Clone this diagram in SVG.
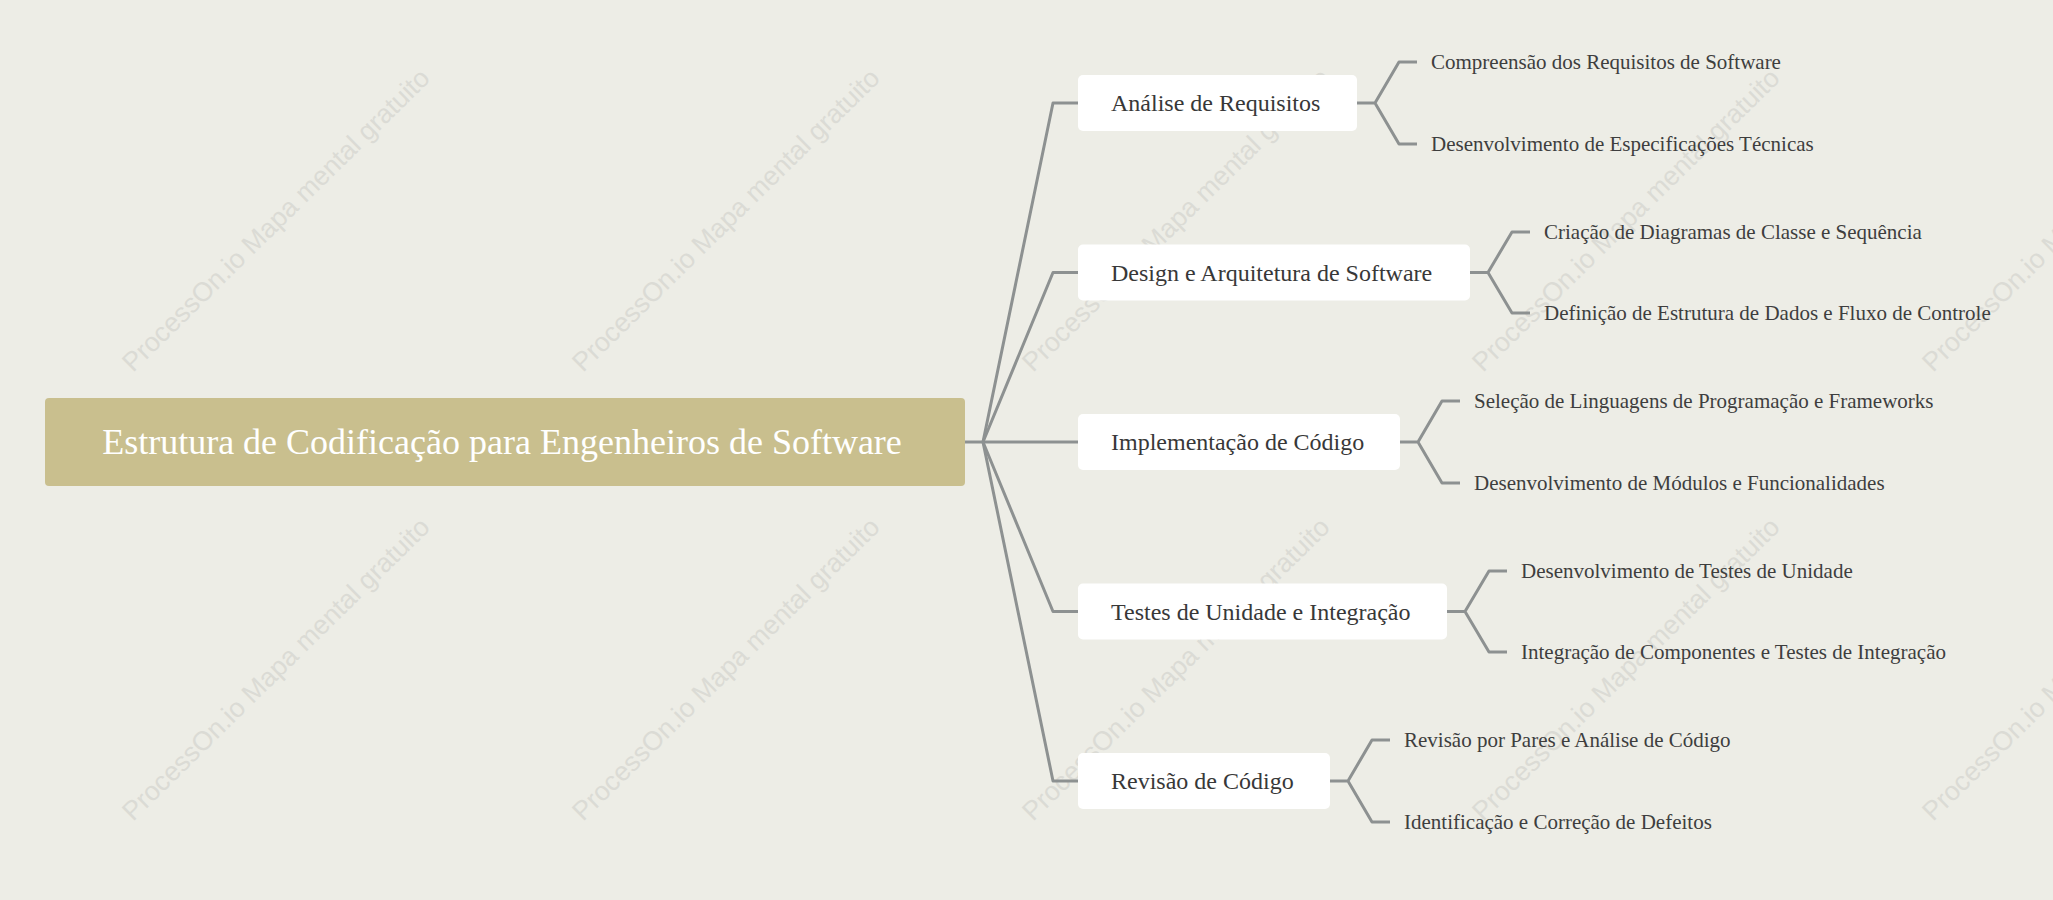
<svg xmlns="http://www.w3.org/2000/svg" width="2053" height="900" viewBox="0 0 2053 900">
<style>
.wm{font-family:"Liberation Sans",Arial,sans-serif;font-size:26.7px;fill:#dbdbd5}
.ln{fill:none;stroke:#8d9191;stroke-width:3;stroke-linejoin:round}
.l1box{fill:#ffffff}
.l1{font-family:"Liberation Serif","Times New Roman",serif;font-size:24px;fill:#383838}
.l2{font-family:"Liberation Serif","Times New Roman",serif;font-size:21px;fill:#3e3e3e}
.root{font-family:"Liberation Serif","Times New Roman",serif;font-size:36px;fill:#ffffff}
</style>
<rect x="0" y="0" width="2053" height="900" fill="#edede6"/>
<g id="watermarks">
<text class="wm" x="133" y="373" transform="rotate(-44.5 133 373)">ProcessOn.io Mapa mental gratuito</text>
<text class="wm" x="583" y="373" transform="rotate(-44.5 583 373)">ProcessOn.io Mapa mental gratuito</text>
<text class="wm" x="1033" y="373" transform="rotate(-44.5 1033 373)">ProcessOn.io Mapa mental gratuito</text>
<text class="wm" x="1483" y="373" transform="rotate(-44.5 1483 373)">ProcessOn.io Mapa mental gratuito</text>
<text class="wm" x="1933" y="373" transform="rotate(-44.5 1933 373)">ProcessOn.io Mapa mental gratuito</text>
<text class="wm" x="133" y="822" transform="rotate(-44.5 133 822)">ProcessOn.io Mapa mental gratuito</text>
<text class="wm" x="583" y="822" transform="rotate(-44.5 583 822)">ProcessOn.io Mapa mental gratuito</text>
<text class="wm" x="1033" y="822" transform="rotate(-44.5 1033 822)">ProcessOn.io Mapa mental gratuito</text>
<text class="wm" x="1483" y="822" transform="rotate(-44.5 1483 822)">ProcessOn.io Mapa mental gratuito</text>
<text class="wm" x="1933" y="822" transform="rotate(-44.5 1933 822)">ProcessOn.io Mapa mental gratuito</text>
</g>
<g id="connectors">
<path class="ln" d="M964,442 H983"/>
<path class="ln" d="M983,442 L1053,103 H1078"/>
<path class="ln" d="M983,442 L1053,272.5 H1078"/>
<path class="ln" d="M983,442 H1078"/>
<path class="ln" d="M983,442 L1053,611.5 H1078"/>
<path class="ln" d="M983,442 L1053,781 H1078"/>
<path class="ln" d="M1357,103 H1375 L1399,62 H1417 M1375,103 L1399,144 H1417"/>
<path class="ln" d="M1470,272.5 H1488 L1512,232 H1530 M1488,272.5 L1512,313 H1530"/>
<path class="ln" d="M1400,442 H1418 L1442,401 H1460 M1418,442 L1442,483 H1460"/>
<path class="ln" d="M1447,611.5 H1465 L1489,571 H1507 M1465,611.5 L1489,652 H1507"/>
<path class="ln" d="M1330,781 H1348 L1372,740 H1390 M1348,781 L1372,822 H1390"/>
</g>
<g id="root">
<rect x="45" y="398" width="920" height="88" rx="4" fill="#c9bf8e"/>
<text class="root" x="502" y="454" text-anchor="middle">Estrutura de Codificação para Engenheiros de Software</text>
</g>
<g id="n1">
<rect class="l1box" x="1078" y="75" width="279" height="56" rx="5"/>
<text class="l1" x="1111" y="111">Análise de Requisitos</text>
</g>
<g id="n1a"><text class="l2" x="1431" y="69">Compreensão dos Requisitos de Software</text></g>
<g id="n1b"><text class="l2" x="1431" y="151">Desenvolvimento de Especificações Técnicas</text></g>
<g id="n2">
<rect class="l1box" x="1078" y="244.5" width="392" height="56" rx="5"/>
<text class="l1" x="1111" y="280.5">Design e Arquitetura de Software</text>
</g>
<g id="n2a"><text class="l2" x="1544" y="239">Criação de Diagramas de Classe e Sequência</text></g>
<g id="n2b"><text class="l2" x="1544" y="320">Definição de Estrutura de Dados e Fluxo de Controle</text></g>
<g id="n3">
<rect class="l1box" x="1078" y="414" width="322" height="56" rx="5"/>
<text class="l1" x="1111" y="450">Implementação de Código</text>
</g>
<g id="n3a"><text class="l2" x="1474" y="408">Seleção de Linguagens de Programação e Frameworks</text></g>
<g id="n3b"><text class="l2" x="1474" y="490">Desenvolvimento de Módulos e Funcionalidades</text></g>
<g id="n4">
<rect class="l1box" x="1078" y="583.5" width="369" height="56" rx="5"/>
<text class="l1" x="1111" y="619.5">Testes de Unidade e Integração</text>
</g>
<g id="n4a"><text class="l2" x="1521" y="578">Desenvolvimento de Testes de Unidade</text></g>
<g id="n4b"><text class="l2" x="1521" y="659">Integração de Componentes e Testes de Integração</text></g>
<g id="n5">
<rect class="l1box" x="1078" y="753" width="252" height="56" rx="5"/>
<text class="l1" x="1111" y="789">Revisão de Código</text>
</g>
<g id="n5a"><text class="l2" x="1404" y="747">Revisão por Pares e Análise de Código</text></g>
<g id="n5b"><text class="l2" x="1404" y="829">Identificação e Correção de Defeitos</text></g>
</svg>
